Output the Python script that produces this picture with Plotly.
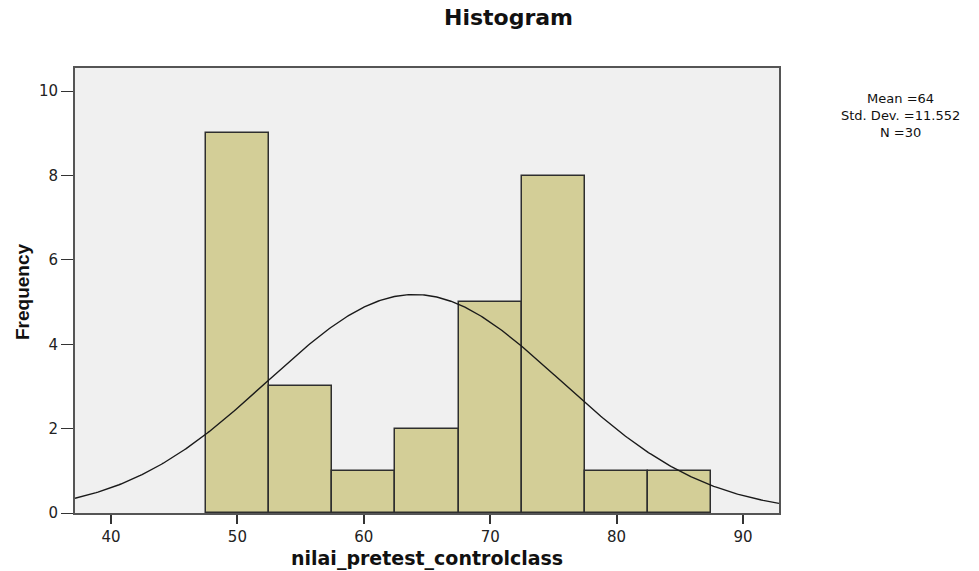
import numpy as np
import plotly.graph_objects as go

# Data
bin_centers = [50, 55, 60, 65, 70, 75, 80, 85]
counts = [9, 3, 1, 2, 5, 8, 1, 1]
bin_width = 5
mean_val = 64
std_val = 11.552
n_val = 30
x_ticks = [40, 50, 60, 70, 80, 90]
y_ticks = [0, 2, 4, 6, 8, 10]
stats_lines = ["Mean =64", "Std. Dev. =11.552", "N =30"]

x_range = [37.15, 92.85]
y_range = [0, 10.55]

# Normal curve scaled to frequency
xs = np.linspace(x_range[0], x_range[1], 400)
ys = n_val * bin_width / (std_val * np.sqrt(2 * np.pi)) * np.exp(-0.5 * ((xs - mean_val) / std_val) ** 2)

W, H = 979, 571
L, R, T, B = 75, 200, 68, 58
pw, ph = W - L - R, H - T - B


def px(x):
    return (x - L) / pw


def py(y):
    return (H - B - y) / ph


wide = "DejaVu Sans, Verdana, sans-serif"
narrow = "Liberation Sans, Arial, sans-serif"

fig = go.Figure()
fig.add_trace(go.Bar(
    x=bin_centers, y=counts, width=bin_width,
    marker=dict(color="rgb(211,206,151)", line=dict(color="#2e2e2e", width=1.5)),
    hoverinfo="x+y", showlegend=False,
))
fig.add_trace(go.Scatter(
    x=xs, y=ys, mode="lines",
    line=dict(color="#1a1a1a", width=1.4),
    showlegend=False, hoverinfo="skip",
))

annotations = [
    dict(text="<b>Histogram</b>", x=px(508), y=py(18), xref="paper", yref="paper",
         xanchor="center", yanchor="middle", showarrow=False,
         font=dict(family=wide, size=22, color="#111")),
    dict(text="<b>nilai_pretest_controlclass</b>", x=px(427), y=py(558), xref="paper", yref="paper",
         xanchor="center", yanchor="middle", showarrow=False,
         font=dict(family=wide, size=19, color="#111")),
    dict(text="<b>Frequency</b>", x=px(22), y=py(292), xref="paper", yref="paper",
         xanchor="center", yanchor="middle", showarrow=False, textangle=-90,
         font=dict(family=narrow, size=19, color="#111")),
    dict(text="<br>".join(stats_lines), x=px(900), y=py(115), xref="paper", yref="paper",
         xanchor="center", yanchor="middle", align="center", showarrow=False,
         font=dict(family=wide, size=13, color="#111")),
]

fig.update_layout(
    width=W, height=H,
    paper_bgcolor="white",
    plot_bgcolor="#f0f0f0",
    margin=dict(l=L, r=R, t=T, b=B, autoexpand=False),
    font=dict(family=wide, color="#222"),
    bargap=0,
    annotations=annotations,
)

fig.update_xaxes(
    range=x_range, tickvals=x_ticks, ticks="outside", ticklen=9, tickwidth=1.5,
    tickcolor="#333", showgrid=False, zeroline=False, automargin=False,
    showline=True, linecolor="#555", linewidth=1.5, mirror=True,
    tickfont=dict(family=wide, size=15, color="#222"),
)
fig.update_yaxes(
    range=y_range, tickvals=y_ticks, ticks="outside", ticklen=12, tickwidth=1.3,
    tickcolor="#333", showgrid=False, zeroline=False, automargin=False,
    showline=True, linecolor="#555", linewidth=1.8, mirror=True,
    tickfont=dict(family=wide, size=15, color="#222"),
)

fig.write_html("out.html", post_script="document.body.style.margin='0';",
               config={"displayModeBar": False})
